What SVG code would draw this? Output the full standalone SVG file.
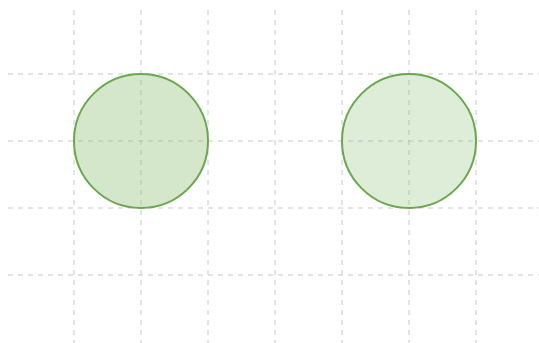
<svg xmlns="http://www.w3.org/2000/svg" width="539" height="343" viewBox="0 0 539 343">
<style>
.grid line{stroke:#c8c8c8;stroke-width:1;stroke-dasharray:5 5}
.c{stroke:#6aa84f;stroke-width:2}
</style>
<rect width="539" height="343" fill="#ffffff"/>
<g class="grid">
<line x1="74" y1="10" x2="74" y2="343"/>
<line x1="141" y1="10" x2="141" y2="343"/>
<line x1="208" y1="10" x2="208" y2="343"/>
<line x1="275" y1="10" x2="275" y2="343"/>
<line x1="342" y1="10" x2="342" y2="343"/>
<line x1="409" y1="10" x2="409" y2="343"/>
<line x1="476" y1="10" x2="476" y2="343"/>
<line x1="8" y1="74" x2="539" y2="74"/>
<line x1="8" y1="141" x2="539" y2="141"/>
<line x1="8" y1="208" x2="539" y2="208"/>
<line x1="8" y1="275" x2="539" y2="275"/>
</g>
<g id="circle1"><circle class="c" cx="141" cy="141" r="67" fill="#93c47d" fill-opacity="0.4"/></g>
<g id="circle2"><circle class="c" cx="409" cy="141" r="67" fill="#93c47d" fill-opacity="0.3"/></g>
</svg>
